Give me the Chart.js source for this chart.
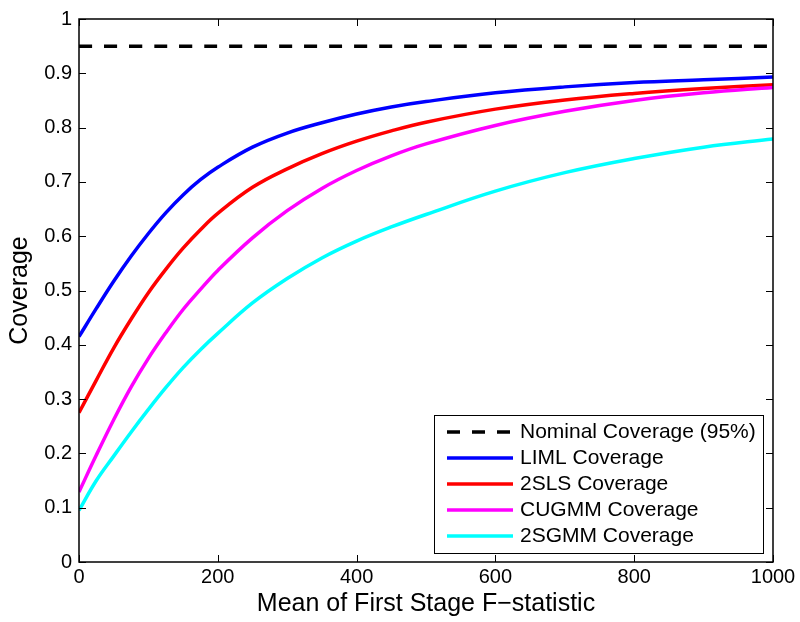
<!DOCTYPE html>
<html>
<head>
<meta charset="utf-8">
<script src="https://cdn.jsdelivr.net/npm/chart.js@4/dist/chart.umd.min.js"></script>
<style>
  html, body { margin: 0; padding: 0; background: #fff; }
  #wrap { width: 800px; height: 622px; }
</style>
</head>
<body>
<div id="wrap"><canvas id="chart"></canvas></div>
<script>
const FONT = "'Liberation Sans', Arial, Helvetica, sans-serif";

// mean first stage F values where the curves were read
const fValues = [0, 25, 50, 75, 100, 125, 150, 175, 200, 250, 300, 350, 400, 450, 500, 600, 700, 800, 900, 1000];
const limlCoverage  = [0.415, 0.467, 0.517, 0.563, 0.605, 0.643, 0.676, 0.704, 0.727, 0.764, 0.790, 0.809, 0.825, 0.838, 0.848, 0.864, 0.875, 0.883, 0.888, 0.893];
const tslsCoverage  = [0.275, 0.335, 0.394, 0.447, 0.496, 0.539, 0.578, 0.612, 0.642, 0.690, 0.724, 0.752, 0.775, 0.794, 0.810, 0.834, 0.851, 0.863, 0.872, 0.879];
const cugmmCoverage = [0.129, 0.197, 0.262, 0.322, 0.375, 0.422, 0.465, 0.502, 0.537, 0.597, 0.647, 0.688, 0.721, 0.748, 0.770, 0.804, 0.830, 0.850, 0.864, 0.874];
const gmm2sCoverage = [0.095, 0.150, 0.195, 0.239, 0.281, 0.321, 0.358, 0.391, 0.421, 0.477, 0.522, 0.560, 0.591, 0.617, 0.640, 0.683, 0.717, 0.743, 0.764, 0.779];
const nominalX = [0, 1000];
const nominalCoverage = [0.95, 0.95];

const xTicks = [0, 200, 400, 600, 800, 1000];
const xTickLabels = ["0", "200", "400", "600", "800", "1000"];
const yTicks = [0, 0.1, 0.2, 0.3, 0.4, 0.5, 0.6, 0.7, 0.8, 0.9, 1];
const yTickLabels = ["0", "0.1", "0.2", "0.3", "0.4", "0.5", "0.6", "0.7", "0.8", "0.9", "1"];

const toPoints = (xs, ys) => xs.map((x, i) => ({ x, y: ys[i] }));

const LINE = { fill: false, pointRadius: 0, borderWidth: 3.5, tension: 0.4 };

// matlab style box, inward ticks on all four sides, legend in the lower right
const matlabBox = {
    id: "matlabBox",
    afterDraw(chart) {
        const { ctx, chartArea: a, scales: { x, y } } = chart;
        ctx.save();
        ctx.strokeStyle = "#000";
        ctx.lineWidth = 1;
        ctx.beginPath();
        xTicks.forEach(v => {
            const px = Math.round(x.getPixelForValue(v)) + 0.5;
            ctx.moveTo(px, a.bottom); ctx.lineTo(px, a.bottom - 7);
            ctx.moveTo(px, a.top); ctx.lineTo(px, a.top + 7);
        });
        yTicks.forEach(v => {
            const py = Math.round(y.getPixelForValue(v)) + 0.5;
            ctx.moveTo(a.left, py); ctx.lineTo(a.left + 7, py);
            ctx.moveTo(a.right, py); ctx.lineTo(a.right - 7, py);
        });
        ctx.stroke();
        ctx.lineWidth = 1.5;
        ctx.strokeRect(a.left, a.top, a.right - a.left, a.bottom - a.top);

        // legend
        const box = { left: 434, top: 415, right: 763, bottom: 553 };
        ctx.fillStyle = "#fff";
        ctx.fillRect(box.left, box.top, box.right - box.left, box.bottom - box.top);
        ctx.lineWidth = 1;
        ctx.strokeRect(box.left + 0.5, box.top + 0.5, box.right - box.left, box.bottom - box.top);
        ctx.font = "21px " + FONT;
        ctx.textBaseline = "middle";
        ctx.textAlign = "left";
        chart.data.datasets.forEach((ds, i) => {
            const cy = 432 + i * 26;
            ctx.strokeStyle = ds.borderColor;
            ctx.lineWidth = ds.borderWidth;
            ctx.setLineDash(ds.borderDash || []);
            ctx.beginPath();
            ctx.moveTo(447, cy); ctx.lineTo(513, cy);
            ctx.stroke();
            ctx.setLineDash([]);
            ctx.fillStyle = "#000";
            ctx.fillText(ds.label, 520, cy);
        });
        ctx.restore();
    },
};

new Chart(document.getElementById("chart"), {
    type: "line",
    data: {
        datasets: [
            { ...LINE, label: "Nominal Coverage (95%)", data: toPoints(nominalX, nominalCoverage), borderColor: "#000000", borderDash: [13, 12], borderWidth: 3.5, order: 5 },
            { ...LINE, label: "LIML Coverage", data: toPoints(fValues, limlCoverage), borderColor: "#0000ff", order: 4 },
            { ...LINE, label: "2SLS Coverage", data: toPoints(fValues, tslsCoverage), borderColor: "#ff0000", order: 3 },
            { ...LINE, label: "CUGMM Coverage", data: toPoints(fValues, cugmmCoverage), borderColor: "#ff00ff", order: 2 },
            { ...LINE, label: "2SGMM Coverage", data: toPoints(fValues, gmm2sCoverage), borderColor: "#00ffff", order: 1 },
        ],
    },
    options: {
        responsive: true,
        maintainAspectRatio: false,
        animation: false,
        layout: { padding: { top: 15, right: 27, left: 0, bottom: 0 } },
        plugins: { legend: { display: false }, tooltip: { enabled: false } },
        scales: {
            x: {
                type: "linear",
                min: 0,
                max: 1000,
                grid: { display: false, drawTicks: false },
                border: { display: false },
                afterBuildTicks: s => { s.ticks = xTicks.map(v => ({ value: v })); },
                afterFit: s => { s.height = 60; },
                ticks: { color: "#000", padding: 3, maxRotation: 0, callback: (v, i) => xTickLabels[i], font: { family: FONT, size: 20 } },
                title: { display: true, text: "Mean of First Stage F\u2212statistic", color: "#000", padding: { top: 0, bottom: 3 }, font: { family: FONT, size: 25 } },
            },
            y: {
                min: 0,
                max: 1,
                grid: { display: false, drawTicks: false },
                border: { display: false },
                afterBuildTicks: s => { s.ticks = yTicks.map(v => ({ value: v })); },
                afterFit: s => { s.width = 79; },
                ticks: { color: "#000", padding: 7, callback: (v, i) => yTickLabels[i], font: { family: FONT, size: 20 } },
                title: { display: true, text: "Coverage", color: "#000", padding: { top: 5, bottom: 0 }, font: { family: FONT, size: 25 } },
            },
        },
    },
    plugins: [matlabBox],
});
</script>
</body>
</html>
